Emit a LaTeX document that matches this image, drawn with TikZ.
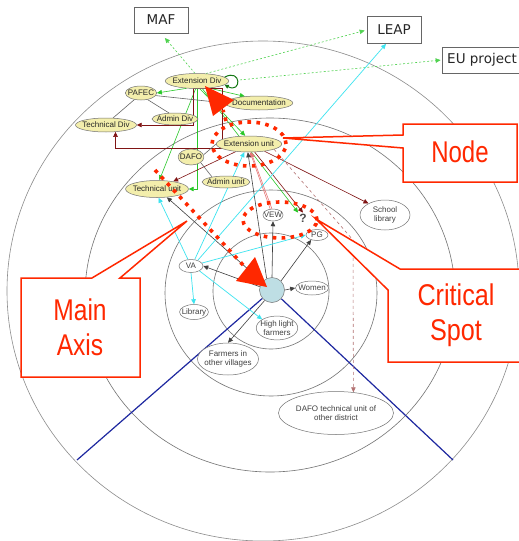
\documentclass[tikz,border=0pt]{standalone}
\usepackage{fontspec}
\setmainfont{Liberation Sans}
\newfontfamily\dejavu{DejaVu Sans}
\usetikzlibrary{shapes.geometric,arrows.meta,calc}
\definecolor{yel}{RGB}{243,238,172}
\definecolor{cir}{RGB}{115,115,115}
\definecolor{cyn}{RGB}{60,228,240}
\definecolor{grn}{RGB}{40,200,40}
\definecolor{lgrn}{RGB}{80,210,80}
\definecolor{dgrn}{RGB}{20,120,20}
\definecolor{mar}{RGB}{128,20,20}
\definecolor{sal}{RGB}{230,120,120}
\definecolor{rd}{RGB}{255,40,0}
\definecolor{nav}{RGB}{30,40,160}
\definecolor{cfill}{RGB}{190,222,228}
\pgfdeclarelayer{bg}
\pgfdeclarelayer{edges}
\pgfdeclarelayer{top}
\pgfsetlayers{bg,edges,main,top}
\begin{document}
\begin{tikzpicture}[x=1pt,y=-1pt,
 arr/.style={-{Triangle[length=5pt,width=4.5pt]}},
 yel/.style={ellipse,draw=cir,fill=yel,line width=0.5pt,inner xsep=-2pt,inner ysep=1pt,minimum height=14pt,font=\fontsize{8}{9}\selectfont,text=black!85},
 wht/.style={ellipse,draw=cir,fill=white,line width=0.5pt,inner xsep=-2pt,inner ysep=1pt,minimum height=12pt,align=center,font=\fontsize{8}{9}\selectfont,text=black!75},
 org/.style={rectangle,draw=black!60,fill=white,line width=0.8pt,inner sep=0pt,font=\dejavu\fontsize{13.5}{15}\selectfont,text=black!85},
 ring/.style={draw=cir,line width=0.6pt},
 gl/.style={arr,grn,line width=0.6pt},
 gd/.style={arr,lgrn,line width=0.6pt,dash pattern=on 2pt off 2pt},
 cy/.style={arr,cyn,line width=0.7pt},
 mr/.style={arr,mar,line width=0.6pt},
 sl/.style={arr,sal,line width=0.6pt},
 bk/.style={arr,black!75,line width=0.6pt},
 pl/.style={black!60,line width=0.6pt},
 rdot/.style={rd,line width=3.6pt,dash pattern=on 3.6pt off 5.4pt},
 callout/.style={draw=rd,fill=white,line width=1.5pt,line join=miter},
 ctext/.style={text=rd,font=\fontsize{30}{35}\selectfont,align=center},
]
\useasboundingbox (0,0) rectangle (519,541);
\begin{pgfonlayer}{bg}
\fill[white] (0,0) rectangle (519,541);
\clip (0,0) rectangle (519,541);
\draw[ring,draw=black!45] (263,291) ellipse [x radius=256pt, y radius=250pt];
\draw[ring] (270,295) ellipse [x radius=185pt, y radius=177pt];
\draw[ring] (271,293) ellipse [x radius=106pt, y radius=103pt];
\draw[ring] (271,291) ellipse [x radius=58pt, y radius=58pt];
\end{pgfonlayer}

% boxes
\node[org,minimum width=54pt,minimum height=26pt] (maf) at (161,20) {MAF};
\node[org,minimum width=54pt,minimum height=27pt] (leap) at (394,30) {LEAP};
\node[org,minimum width=80pt,minimum height=26pt] (eup) at (482,60) {EU project};

% yellow nodes
\node[yel,minimum height=15pt] (ed) at (197,81) {Extension Div};
\node[yel] (pafec) at (141,93) {PAFEC};
\node[yel,inner xsep=-3pt] (doc) at (259,103) {Documentation};
\node[yel,minimum height=12pt] (adiv) at (175,119) {Admin Div};
\node[yel] (tdiv) at (106,125) {Technical Div};
\node[yel,minimum height=16pt] (eu) at (249,144) {Extension unit};
\node[yel,minimum height=16pt] (dafo) at (191,157) {DAFO};
\node[yel,minimum height=12pt] (aunit) at (226,182) {Admin unit};
\node[yel,minimum height=17pt] (tunit) at (157,189) {Technical unit};

% white nodes
\node[circle,draw=cir,fill=cfill,line width=0.5pt,minimum size=25pt,inner sep=0pt] (cc) at (272,290) {};
\node[wht] (vew) at (273,215) {VEW};
\node[text=black!70,font=\fontsize{12}{12}\selectfont\bfseries,inner sep=1pt] (q) at (303,218) {?};
\node[wht,minimum height=11pt,minimum width=22pt] (pg) at (317,235) {PG};
\node[wht,minimum height=14pt] (women) at (312,288) {Women};
\node[wht,minimum width=24pt,minimum height=13pt] (va) at (191,266) {VA};
\node[wht,minimum height=15pt] (lib) at (194,312) {Library};
\node[wht,minimum height=23pt] (hlf) at (277,328) {High light\\farmers};
\node[wht,minimum height=32pt] (fov) at (228,359) {Farmers in\\other villages};
\node[wht,minimum width=50pt,minimum height=30pt] (sch) at (385,215) {School\\library};
\node[wht,minimum width=115pt,minimum height=43pt] (dtu) at (336,413) {DAFO technical unit of\\other district};

\coordinate (bl) at (77,460);
\coordinate (br) at (453,460);
\coordinate (b1) at (193,88);
\coordinate (bnd) at (353,240);

\begin{pgfonlayer}{edges}
\draw[nav,line width=1.2pt] (cc) -- (bl);
\draw[nav,line width=1.2pt] (cc) -- (br);
% green dashed
\draw[gd,shorten >=6pt] (ed.105) -- (maf.south);
\draw[gd,shorten >=2pt] (ed.40) -- (leap.west);
\draw[gd,shorten <=11pt,shorten >=1pt] (ed.east) -- (eup.west);
% green solid
\draw[gl] (ed.-145) -- (pafec.east);
\draw[gl] (ed.-30) -- (doc.155);
\draw[gl] (ed.-70) -- (eu.115);
\draw[gl] (ed.-100) -- (tunit.75);
\draw[gl] (ed.-85) |- (tunit.east);
\draw[gl] (ed.-55) -- (q.north west);
% maroon
\draw[mr] (eu.170) |- (b1) |- (tdiv.east);
\draw[mr] (eu.190) -| (tdiv.-36);
\draw[mr] (eu.-25) -- (sch.145);
\draw[mr] (eu.-55) -- (q.north);
\draw[mr] (eu.-150) -- (tunit.25);
\draw[mr,dashed,draw=mar!60] (eu.-12) -- (bnd) -- (dtu.50);
% salmon
\draw[sl] (vew.115) -- (eu.-82);
\draw[sl] (vew.100) -- (eu.-76);
% black from centre
\draw[bk] (cc.115) -- (eu.-98);
\draw[bk] (cc.north) -- (vew.south);
\draw[bk] (cc.45) -- (pg.-140);
\draw[bk] (cc.east) -- (women.west);
\draw[bk] (cc.165) -- (va.east);
\draw[bk] (cc.140) -- (tunit.-40);
\draw[bk] (cc.-125) -- (fov.north);
% cyan from VA
\draw[cy] (va.115) -- (tunit.-80);
\draw[cy] (va.60) -- (eu.-120);
\draw[cy] (va.40) -- (leap.-120);
\draw[cy] (va.15) -- (pg.west);
\draw[cy] (va.south) -- (lib.north);
\draw[cy] (va.-30) -- (hlf.150);
% plain
\draw[pl] (pafec.-135) -- (tdiv.45);
\draw[pl] (pafec.-45) -- (adiv.135);
\draw[pl] (pafec.-10) -- (doc.west);
\draw[pl] (dafo.-30) -- (aunit.160);
\draw[pl] (dafo.10) -- (eu.west);
\end{pgfonlayer}
% self loop
\draw[dgrn,line width=1pt,-{Triangle[length=4pt,width=4pt]}] (ed.8) .. controls +(17,-9) and +(17,9) .. (ed.-8);

\begin{pgfonlayer}{top}
\draw[rdot] (249,144) ellipse [x radius=37pt, y radius=22pt];
\draw[rdot] (280,220) ellipse [x radius=37pt, y radius=18pt];
\draw[rdot] (226,121) -- (223,110);
\fill[rd] (205,86) -- (213,116) -- (234,100) -- cycle;
\draw[rdot] (155,170) -- (244,266);
\fill[rd] (267,287) -- (236,281) -- (255,257) -- cycle;
% callouts
\draw[callout] (403,124) -- (517,124) -- (517,182) -- (403,182) -- (403,148) -- (283,138) -- (403,135) -- cycle;
\node[ctext] (lnode) at (460,152) {\scalebox{0.8}[1]{Node}};
\draw[callout] (316,219) -- (400,269) -- (530,269) -- (530,362) -- (388,362) -- (388,290) -- cycle;
\node[ctext] (lcrit) at (456,315) {\scalebox{0.84}[1]{Critical}\\\scalebox{0.84}[1]{Spot}};
\draw[callout] (21,278) -- (92,278) -- (187,221) -- (120,278) -- (140,278) -- (140,377) -- (21,377) -- cycle;
\node[ctext] (laxis) at (80,327) {\scalebox{0.82}[1]{Main}\\\scalebox{0.82}[1]{Axis}};
\end{pgfonlayer}
\end{tikzpicture}
\end{document}
